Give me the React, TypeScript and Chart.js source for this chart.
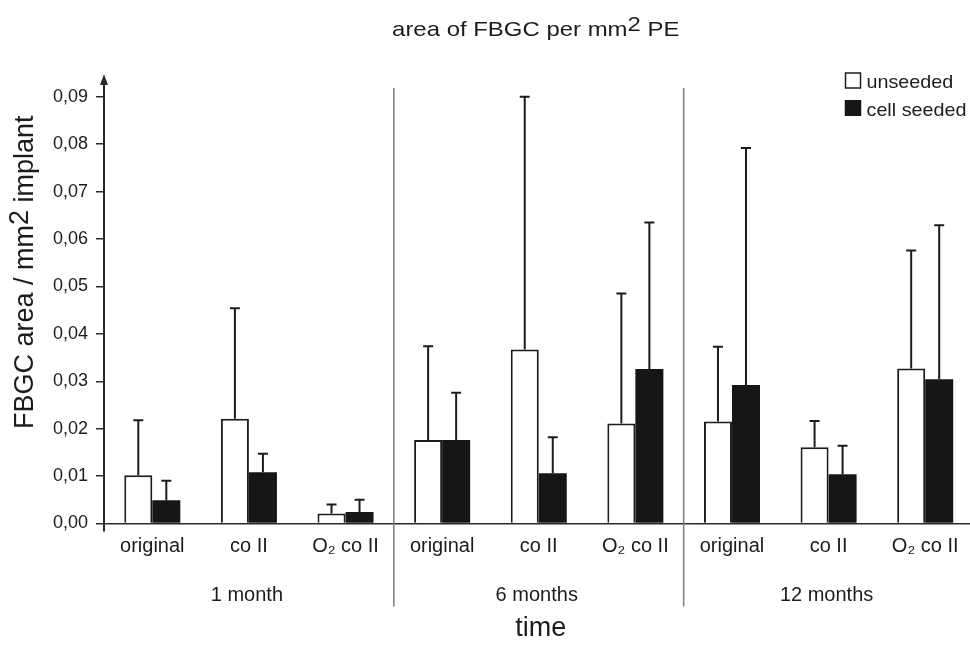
import React, { useEffect, useRef } from 'react';
import { Chart, registerables } from 'chart.js';

Chart.register(...registerables);

// ---------- data ----------
const categories = ['original', 'co II', 'O\u2082 co II', 'original', 'co II', 'O\u2082 co II', 'original', 'co II', 'O\u2082 co II'];
const groupLabels = ['1 month', '6 months', '12 months'];
const seriesNames = ['unseeded', 'cell seeded'];
const unseededMean = [0.0102, 0.0221, 0.0021, 0.0176, 0.0367, 0.0211, 0.0215, 0.0161, 0.0327];
const unseededSD = [0.0116, 0.0233, 0.0019, 0.0198, 0.0533, 0.0274, 0.0158, 0.0055, 0.0249];
const seededMean = [0.0049, 0.0108, 0.0024, 0.0176, 0.0106, 0.0326, 0.0292, 0.0104, 0.0304];
const seededSD = [0.0041, 0.0039, 0.0026, 0.0100, 0.0076, 0.0309, 0.0500, 0.0060, 0.0325];
const yTickValues = [0, 0.01, 0.02, 0.03, 0.04, 0.05, 0.06, 0.07, 0.08, 0.09];
const titleParts: [string, number][] = [['area of FBGC per mm', 0], ['2', -5], [' PE', 0]];
const yTitleParts: [string, number][] = [['FBGC area / mm', 0], ['2', -5], [' implant', 0]];
const xTitle = 'time';

const FONT = '"Liberation Sans", Arial, Helvetica, sans-serif';
const INK = '#1c1c1c';

function drawParts(ctx: CanvasRenderingContext2D, parts: [string, number][], x: number, y: number, size: number, scaleX: number, align: 'center' | 'left') {
  ctx.save();
  ctx.font = `${size}px ${FONT}`;
  ctx.textAlign = 'left';
  ctx.textBaseline = 'alphabetic';
  ctx.fillStyle = INK;
  const widths = parts.map((p) => ctx.measureText(p[0]).width * scaleX);
  const total = widths.reduce((a, b) => a + b, 0);
  let cx = align === 'center' ? x - total / 2 : x;
  parts.forEach((p, i) => {
    ctx.save();
    ctx.translate(cx, y + p[1]);
    ctx.scale(scaleX, 1);
    ctx.fillText(p[0], 0, 0);
    ctx.restore();
    cx += widths[i];
  });
  ctx.restore();
}

const decorPlugin = {
  id: 'decor',
  afterDatasetsDraw(chart: any) {
    const { ctx } = chart;
    const yScale = chart.scales.y;
    const means = [unseededMean, seededMean];
    const sds = [unseededSD, seededSD];
    ctx.save();
    ctx.strokeStyle = INK;
    ctx.lineWidth = 2;
    [0, 1].forEach((di) => {
      const meta = chart.getDatasetMeta(di);
      meta.data.forEach((el: any, i: number) => {
        const m = means[di][i];
        const top = yScale.getPixelForValue(m + sds[di][i]);
        const base = yScale.getPixelForValue(m);
        ctx.beginPath();
        ctx.moveTo(el.x, base);
        ctx.lineTo(el.x, top);
        ctx.moveTo(el.x - 5, top);
        ctx.lineTo(el.x + 5, top);
        ctx.stroke();
      });
    });
    ctx.restore();
  },
  afterDraw(chart: any) {
    const { ctx, chartArea } = chart;
    const xs = chart.scales.x;
    const { left, right, top, bottom } = chartArea;
    const midX = (left + right) / 2;

    ctx.save();
    // group separators
    ctx.strokeStyle = '#7d7d7d';
    ctx.lineWidth = 1.5;
    [2, 5].forEach((i) => {
      const px = (xs.getPixelForValue(i) + xs.getPixelForValue(i + 1)) / 2;
      ctx.beginPath();
      ctx.moveTo(px, top + 13);
      ctx.lineTo(px, bottom + 83);
      ctx.stroke();
    });

    // y axis with arrow
    ctx.strokeStyle = '#2a2a2a';
    ctx.fillStyle = '#2a2a2a';
    ctx.lineWidth = 2;
    ctx.beginPath();
    ctx.moveTo(left, bottom + 8);
    ctx.lineTo(left, top + 6);
    ctx.stroke();
    ctx.beginPath();
    ctx.moveTo(left, top - 1);
    ctx.lineTo(left - 4, top + 10);
    ctx.lineTo(left + 4, top + 10);
    ctx.closePath();
    ctx.fill();

    // legend
    const lx = right - 128;
    ctx.lineWidth = 1.5;
    ctx.strokeStyle = INK;
    ctx.fillStyle = '#ffffff';
    ctx.fillRect(lx, 73, 15, 15);
    ctx.strokeRect(lx, 73, 15, 15);
    ctx.fillStyle = '#161616';
    ctx.fillRect(lx - 0.75, 100, 16.5, 16);
    drawParts(ctx, [[seriesNames[0], 0]], lx + 21, 88, 19, 1.04, 'left');
    drawParts(ctx, [[seriesNames[1], 0]], lx + 21, 115.5, 19, 1.04, 'left');

    // title
    drawParts(ctx, titleParts, midX - 3, 36, 21, 1.14, 'center');

    // y title
    ctx.save();
    ctx.translate(33, (top + bottom) / 2 - 27);
    ctx.rotate(-Math.PI / 2);
    drawParts(ctx, yTitleParts, 0, 0, 27, 1, 'center');
    ctx.restore();

    // group labels
    [1, 4, 7].forEach((ci, gi) => {
      drawParts(ctx, [[groupLabels[gi], 0]], xs.getPixelForValue(ci) - 2, bottom + 77, 20, 1, 'center');
    });

    // x title
    drawParts(ctx, [[xTitle, 0]], midX + 2, bottom + 112, 27, 1, 'center');
    ctx.restore();
  },
};

export default function App() {
  const ref = useRef<HTMLCanvasElement | null>(null);
  useEffect(() => {
    document.documentElement.style.overflow = 'hidden';
    document.body.style.overflow = 'hidden';
    const canvas = ref.current;
    if (!canvas) return;
    const chart = new Chart(canvas, {
      type: 'bar',
      data: {
        labels: categories,
        datasets: [
          {
            label: seriesNames[0],
            data: unseededMean,
            backgroundColor: '#ffffff',
            borderColor: INK,
            borderWidth: 2,
            borderSkipped: 'bottom',
            categoryPercentage: 0.58,
            barPercentage: 1.0,
          },
          {
            label: seriesNames[1],
            data: seededMean,
            backgroundColor: '#161616',
            borderColor: '#161616',
            borderWidth: 0,
            categoryPercentage: 0.58,
            barPercentage: 1.0,
          },
        ],
      },
      options: {
        responsive: false,
        animation: false,
        layout: { padding: { left: 0, right: 6.5, top: 75, bottom: 0 } },
        plugins: {
          legend: { display: false },
          title: { display: false },
          tooltip: { enabled: false },
        },
        scales: {
          x: {
            type: 'category',
            grid: { display: false, drawTicks: false },
            border: { display: true, color: '#2a2a2a', width: 1.5 },
            ticks: {
              color: INK,
              font: { family: FONT, size: 20 },
              padding: 11,
              maxRotation: 0,
              autoSkip: false,
            },
            afterFit: (s: any) => {
              s.height = 127.5;
            },
          },
          y: {
            min: 0,
            max: 0.0946,
            grid: {
              display: true,
              drawOnChartArea: false,
              drawTicks: true,
              tickLength: 8,
              color: '#2a2a2a',
              lineWidth: 1.5,
            },
            border: { display: false },
            afterBuildTicks: (s: any) => {
              s.ticks = yTickValues.map((v) => ({ value: v }));
            },
            ticks: {
              color: INK,
              font: { family: FONT, size: 18 },
              padding: 8,
              callback: (v: any) => Number(v).toFixed(2).replace('.', ','),
            },
            afterFit: (s: any) => {
              s.width = 104;
            },
          },
        },
      },
      plugins: [decorPlugin],
    } as any);
    return () => chart.destroy();
  }, []);
  return (
    <div style={{ position: 'fixed', left: 0, top: 0, width: 980, height: 651, background: '#ffffff', overflow: 'hidden' }}>
      <canvas ref={ref} width={980} height={651} style={{ width: 980, height: 651, display: 'block' }} />
    </div>
  );
}
